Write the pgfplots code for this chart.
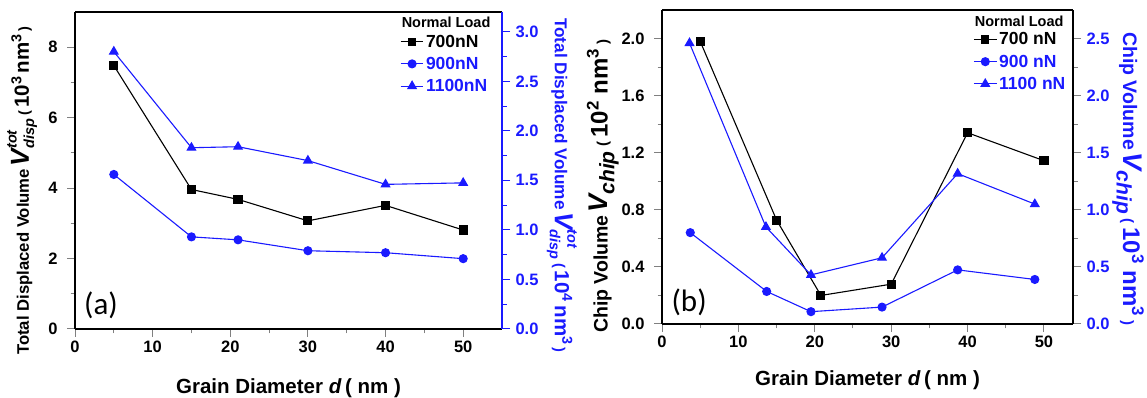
\documentclass[border=0pt]{standalone}
\usepackage{pgfplots}
\pgfplotsset{compat=1.18}
\usepackage{fontspec}
\setmainfont{Liberation Sans}
\newfontfamily\calibri{Carlito}
\definecolor{myblue}{RGB}{26,26,255}
\newcommand\fs[1]{\fontsize{#1}{#1}\selectfont}
% V^{tot}_{disp} ( 10^k nm^3 )
\newcommand\Vdisp[1]{{\fs{20.5}$\mbox{\fs{26}\itshape V}^{\mbox{\fs{14.5}\itshape tot}}_{\mbox{\fs{14.5}\itshape disp}}$\,{\fs{14.5}(\,}10\textsuperscript{#1}\,nm\textsuperscript{3}{\fs{14.5}\,)}}}
\newcommand\Vchip[1]{{\fs{24}$\mbox{\fs{27}\itshape V}_{\mbox{\fs{21}\itshape chip}}$\,{\fs{15}( }10\textsuperscript{#1} nm\textsuperscript{3}{\fs{15} )}}}
\pgfplotsset{
  base/.style={
    scale only axis,
    tick align=outside,
    major tick length=8pt, minor tick length=4.5pt,
    /pgf/number format/assume math mode=true,
    tick label style={font=\fs{16.5}\bfseries},
    label style={font=\bfseries, inner sep=0pt},
    axis line style={line width=1.1pt},
    tick style={line width=1pt},
    clip=false,
  },
  legimg/.style={legend image code/.code={\draw[mark repeat=2,mark phase=2] plot coordinates {(0cm,0cm) (0.4cm,0cm) (0.8cm,0cm)};}},
}
\begin{document}
\begin{tikzpicture}
\path[use as bounding box] (0,0) rectangle (1147pt,398pt);
% ---------------- panel (a) ----------------
\begin{axis}[base, at={(75pt,69pt)}, anchor=south west, width=427pt, height=317pt,
  xmin=0, xmax=55, ymin=0, ymax=9,
  axis x line*=box, axis y line*=left,
  xtick={0,10,...,50}, minor x tick num=1, xtick pos=left,
  ytick={0,2,...,8}, minor y tick num=1,
  yticklabel style={xshift=-6pt},
  xlabel={\fs{20.5}Grain Diameter \textit{d}\,( nm )},
  xlabel style={at={(axis description cs:0.5,-0.186)}, anchor=center},
  ylabel={{\fs{16.7}Total Displaced Volume}\ \Vdisp{3}},
  ylabel style={at={(axis description cs:-0.124,-0.082)}, anchor=west},
]
\addplot[black, line width=1.1pt, mark=square*, mark size=4pt] coordinates {
(5,7.48) (15,3.96) (21,3.68) (30,3.07) (40,3.51) (50,2.81)};
\node[font=\calibri\fs{31}] at (rel axis cs:0.061,0.076) {(a)};
\node[font=\fs{14.5}\bfseries] at (rel axis cs:0.869,0.968) {Normal Load};
\end{axis}
\begin{axis}[base, at={(75pt,69pt)}, anchor=south west, width=427pt, height=317pt,
  xmin=0, xmax=55, ymin=0, ymax=3.2,
  axis x line=none, axis y line*=right,
  ytick={0,0.5,...,3}, minor y tick num=1,
  y axis line style={myblue}, tick style={myblue},
  yticklabel style={xshift=2pt, myblue, /pgf/number format/fixed, /pgf/number format/fixed zerofill, /pgf/number format/precision=1},
  ylabel={{\fs{17.2}Total Displaced Volume}\ \Vdisp{4}},
  ylabel style={myblue, at={(axis description cs:1.14,0.981)}, anchor=west, rotate=180},
  legimg, legend cell align=left,
  legend style={at={(rel axis cs:0.761,0.935)}, anchor=north west, draw=none, fill=none,
    font=\fs{17.5}\bfseries, inner sep=0pt, row sep=4.5pt},
]
\addlegendimage{black, line width=1.1pt, mark=square*, mark size=3.5pt}
\addlegendentry{700nN}
\addplot[myblue, line width=1.1pt, mark=*, mark size=4pt] coordinates {
(5,1.56) (15,0.93) (21,0.90) (30,0.79) (40,0.77) (50,0.71)};
\addlegendentry{\textcolor{myblue}{900nN}}
\addplot[myblue, line width=1.1pt, mark=triangle*, mark size=4.8pt] coordinates {
(5,2.80) (15,1.83) (21,1.84) (30,1.70) (40,1.46) (50,1.475)};
\addlegendentry{\textcolor{myblue}{1100nN}}
\end{axis}
% ---------------- panel (b) ----------------
\begin{axis}[base, at={(662pt,74pt)}, anchor=south west, width=411pt, height=314pt,
  xmin=0, xmax=53.8, ymin=0, ymax=2.2,
  axis x line*=box, axis y line*=left,
  xtick={0,10,...,50}, minor x tick num=1, xtick pos=left,
  ytick={0,0.4,...,2.0}, minor y tick num=1,
  yticklabel style={xshift=-6pt, /pgf/number format/fixed, /pgf/number format/fixed zerofill, /pgf/number format/precision=1},
  xlabel={\fs{20.5}Grain Diameter \textit{d}\,( nm )},
  xlabel style={at={(axis description cs:0.5,-0.178)}, anchor=center},
  ylabel={{\fs{19.5}Chip Volume}\ \Vchip{2}},
  ylabel style={at={(axis description cs:-0.144,-0.029)}, anchor=west},
]
\addplot[black, line width=1.1pt, mark=square*, mark size=4pt] coordinates {
(5,1.98) (15,0.728) (20.8,0.20) (30,0.279) (40,1.34) (50,1.144)};
\node[font=\calibri\fs{31}] at (rel axis cs:0.066,0.07) {(b)};
\node[font=\fs{14.5}\bfseries] at (rel axis cs:0.869,0.965) {Normal Load};
\end{axis}
\begin{axis}[base, at={(662pt,74pt)}, anchor=south west, width=411pt, height=314pt,
  xmin=0, xmax=53.8, ymin=0, ymax=2.75,
  axis x line=none, axis y line*=right,
  ytick={0,0.5,...,2.5}, minor y tick num=1,
  yticklabel style={xshift=2pt, myblue, /pgf/number format/fixed, /pgf/number format/fixed zerofill, /pgf/number format/precision=1},
  ylabel={{\fs{19.5}Chip Volume}\ \Vchip{3}},
  ylabel style={myblue, at={(axis description cs:1.134,0.93)}, anchor=west, rotate=180},
  legimg, legend cell align=left,
  legend style={at={(rel axis cs:0.757,0.935)}, anchor=north west, draw=none, fill=none,
    font=\fs{17.5}\bfseries, inner sep=0pt, row sep=4.5pt},
]
\addlegendimage{black, line width=1.1pt, mark=square*, mark size=3.5pt}
\addlegendentry{700 nN}
\addplot[myblue, line width=1.1pt, mark=*, mark size=4pt] coordinates {
(3.7,0.80) (13.7,0.285) (19.5,0.108) (28.8,0.148) (38.7,0.474) (48.8,0.39)};
\addlegendentry{\textcolor{myblue}{900 nN}}
\addplot[myblue, line width=1.1pt, mark=triangle*, mark size=4.8pt] coordinates {
(3.6,2.46) (13.6,0.85) (19.5,0.43) (28.8,0.58) (38.7,1.317) (48.8,1.05)};
\addlegendentry{\textcolor{myblue}{1100 nN}}
\end{axis}
\end{tikzpicture}
\end{document}
